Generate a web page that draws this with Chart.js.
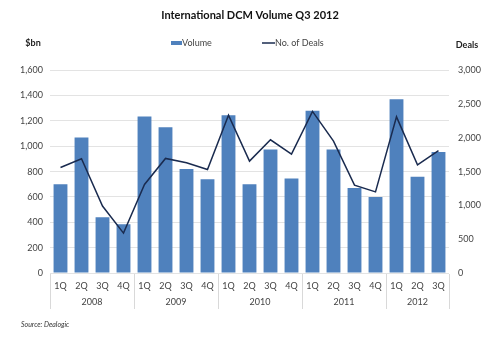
<!DOCTYPE html>
<html>
<head>
<meta charset="utf-8">
<script src="https://cdn.jsdelivr.net/npm/chart.js@4"></script>
<style>
  html, body { margin: 0; padding: 0; background: #fff; }
  #wrap { width: 500px; height: 340px; }
</style>
</head>
<body>
<div id="wrap"><canvas id="dcm-chart" width="500" height="340"></canvas></div>
<script>
const quarters = ["1Q", "2Q", "3Q", "4Q", "1Q", "2Q", "3Q", "4Q", "1Q", "2Q", "3Q", "4Q", "1Q", "2Q", "3Q", "4Q", "1Q", "2Q", "3Q"];
const years = ["2008", "2009", "2010", "2011", "2012"];
const yearSizes = [4, 4, 4, 4, 3];
const volume = [700, 1070, 440, 385, 1235, 1150, 820, 740, 1245, 700, 975, 745, 1280, 975, 670, 600, 1370, 760, 955];
const deals = [1560, 1690, 990, 590, 1310, 1695, 1630, 1530, 2335, 1655, 1970, 1760, 2390, 1950, 1300, 1200, 2310, 1600, 1810];

const font = "Lato, 'Open Sans', sans-serif";

// legend, year row, axis captions and source line
const extraText = {
  id: "extraText",
  afterDraw(chart) {
    const c = chart.ctx;
    const x = chart.scales.x;
    const area = chart.chartArea;
    const half = (x.getPixelForValue(1) - x.getPixelForValue(0)) / 2;
    const barSet = chart.data.datasets[1];
    const lineSet = chart.data.datasets[0];
    c.save();
    c.strokeStyle = "#d9d9d9";
    c.lineWidth = 1;
    c.fillStyle = "#444";
    c.font = "9px " + font;
    c.textAlign = "center";
    c.textBaseline = "middle";
    let start = 0;
    years.forEach((yr, i) => {
      const end = start + yearSizes[i] - 1;
      const left = x.getPixelForValue(start) - half;
      const right = x.getPixelForValue(end) + half;
      c.beginPath();
      c.moveTo(Math.round(left) + 0.5, area.bottom + 1);
      c.lineTo(Math.round(left) + 0.5, area.bottom + 36);
      if (i === years.length - 1) {
        c.moveTo(Math.round(right) + 0.5, area.bottom + 1);
        c.lineTo(Math.round(right) + 0.5, area.bottom + 36);
      }
      c.stroke();
      c.fillText(yr, (left + right) / 2, area.bottom + 29);
      start = end + 1;
    });

    // legend
    c.textAlign = "left";
    c.fillStyle = barSet.backgroundColor;
    c.fillRect(171, 41, 11, 4);
    c.fillStyle = "#444";
    c.fillText(barSet.label, 182, 43);
    c.strokeStyle = lineSet.borderColor;
    c.lineWidth = 1.5;
    c.beginPath();
    c.moveTo(262, 43);
    c.lineTo(275, 43);
    c.stroke();
    c.fillText(lineSet.label, 275, 43);

    c.textAlign = "center";
    c.fillStyle = "#222";
    c.font = "bold 9px " + font;
    c.fillText("$bn", 33, 43);
    c.fillText("Deals", 467, 45);

    c.font = "italic 7px " + font;
    c.textAlign = "left";
    c.fillStyle = "#333";
    c.fillText("Source: Dealogic", 21, 325);
    c.restore();
  }
};

const ctx = document.getElementById("dcm-chart").getContext("2d");

const dcmChart = new Chart(ctx, {
  data: {
    labels: quarters,
    datasets: [
      {
        type: "line",
        label: "No. of Deals",
        data: deals,
        yAxisID: "y2",
        borderColor: "#1a2b4f",
        backgroundColor: "#1a2b4f",
        borderWidth: 1.5,
        pointRadius: 0,
        tension: 0,
        order: 0
      },
      {
        type: "bar",
        label: "Volume",
        data: volume,
        yAxisID: "y",
        backgroundColor: "#4f81bd",
        barPercentage: 0.66,
        categoryPercentage: 1,
        order: 1
      }
    ]
  },
  options: {
    responsive: false,
    animation: false,
    layout: { padding: { top: 0, bottom: 23, left: 0, right: 0 } },
    plugins: {
      title: {
        display: true,
        text: "International DCM Volume Q3 2012",
        color: "#111",
        font: { family: font, size: 11, weight: "bold" },
        padding: { top: 9, bottom: 48 }
      },
      legend: { display: false },
      tooltip: { enabled: false }
    },
    scales: {
      x: {
        grid: { display: false, drawTicks: false },
        border: { display: false },
        ticks: { color: "#444", font: { family: font, size: 9 }, padding: 8, maxRotation: 0, autoSkip: false },
        afterFit(scale) { scale.height = 44; }
      },
      y: {
        position: "left",
        min: 0,
        max: 1600,
        ticks: {
          stepSize: 200,
          color: "#444",
          padding: 7,
          font: { family: font, size: 9 },
          callback: v => v.toLocaleString("en-US")
        },
        grid: { color: "#e3e3e3", drawTicks: false },
        border: { display: false },
        afterFit(scale) { scale.width = 50; }
      },
      y2: {
        position: "right",
        min: 0,
        max: 3000,
        ticks: {
          stepSize: 500,
          color: "#444",
          padding: 9,
          font: { family: font, size: 9 },
          callback: v => v.toLocaleString("en-US")
        },
        grid: { display: false, drawTicks: false },
        border: { display: false },
        afterFit(scale) { scale.width = 51; }
      }
    }
  },
  plugins: [extraText]
});
</script>
</body>
</html>
